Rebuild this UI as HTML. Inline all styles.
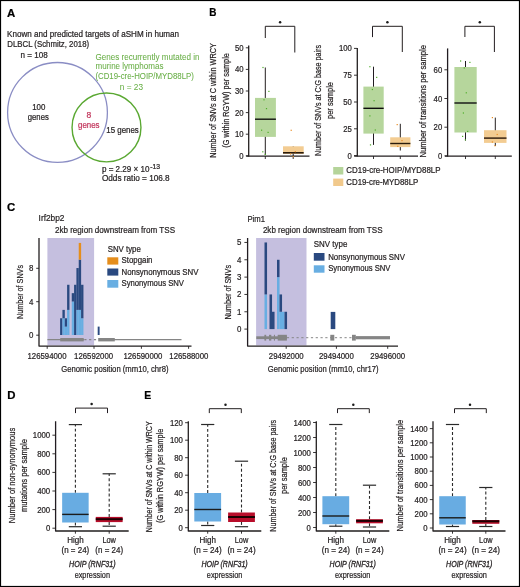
<!DOCTYPE html>
<html><head><meta charset="utf-8"><style>
html,body{margin:0;padding:0;background:#fff;}
body{width:520px;height:587px;overflow:hidden;}
svg{display:block;font-family:"Liberation Sans", sans-serif;}
</style></head><body>
<svg width="520" height="587" viewBox="0 0 520 587">
<defs><filter id="soft" x="-5%" y="-5%" width="110%" height="110%" filterUnits="objectBoundingBox"><feGaussianBlur stdDeviation="0.35"/></filter></defs>
<rect x="0" y="0" width="520" height="587" fill="#fff"/>
<g filter="url(#soft)">
<rect x="1" y="1" width="518" height="585" fill="#fff"/>
<text x="7.1" y="16.5" font-size="11.4" fill="#000" stroke="#000" stroke-width="0.22" font-weight="bold" >A</text>
<text x="209.2" y="16.3" font-size="11.4" fill="#000" stroke="#000" stroke-width="0.22" font-weight="bold" textLength="7.2" lengthAdjust="spacingAndGlyphs" >B</text>
<text x="7.1" y="211.3" font-size="11.4" fill="#000" stroke="#000" stroke-width="0.22" font-weight="bold" >C</text>
<text x="7.2" y="398.7" font-size="11.4" fill="#000" stroke="#000" stroke-width="0.22" font-weight="bold" >D</text>
<text x="144.2" y="398.7" font-size="11.4" fill="#000" stroke="#000" stroke-width="0.22" font-weight="bold" textLength="7.0" lengthAdjust="spacingAndGlyphs" >E</text>
<text x="7.1" y="36.8" font-size="8.6" fill="#231f20" stroke="#231f20" stroke-width="0.22" textLength="172" lengthAdjust="spacingAndGlyphs" >Known and predicted targets of aSHM in human</text>
<text x="7.3" y="47.0" font-size="8.6" fill="#231f20" stroke="#231f20" stroke-width="0.22" textLength="81.8" lengthAdjust="spacingAndGlyphs" >DLBCL (Schmitz, 2018)</text>
<text x="20.6" y="57.9" font-size="8.6" fill="#231f20" stroke="#231f20" stroke-width="0.22" textLength="27.1" lengthAdjust="spacingAndGlyphs" >n = 108</text>
<text x="95.4" y="59.5" font-size="8.6" fill="#69af47" stroke="#69af47" stroke-width="0.05" textLength="104.2" lengthAdjust="spacingAndGlyphs" >Genes recurrently mutated in</text>
<text x="95.5" y="69.2" font-size="8.6" fill="#69af47" stroke="#69af47" stroke-width="0.05" textLength="67.9" lengthAdjust="spacingAndGlyphs" >murine lymphomas</text>
<text x="95.4" y="78.7" font-size="8.6" fill="#69af47" stroke="#69af47" stroke-width="0.05" textLength="98.5" lengthAdjust="spacingAndGlyphs" >(CD19-cre-HOIP/MYD88LP)</text>
<text x="119.8" y="90.2" font-size="8.6" fill="#69af47" stroke="#69af47" stroke-width="0.05" textLength="23.2" lengthAdjust="spacingAndGlyphs" >n = 23</text>
<circle cx="57.5" cy="112.4" r="49.9" fill="none" stroke="#8a8dc4" stroke-width="1.3"/>
<circle cx="106.5" cy="127.4" r="34.45" fill="none" stroke="#5aa832" stroke-width="1.4"/>
<text x="38.8" y="110" font-size="8.5" fill="#231f20" stroke="#231f20" stroke-width="0.22" text-anchor="middle" textLength="13.2" lengthAdjust="spacingAndGlyphs" >100</text>
<text x="38.3" y="119.5" font-size="8.5" fill="#231f20" stroke="#231f20" stroke-width="0.22" text-anchor="middle" textLength="21" lengthAdjust="spacingAndGlyphs" >genes</text>
<text x="88.8" y="117.5" font-size="8.5" fill="#c2365c" stroke="#c2365c" stroke-width="0.22" text-anchor="middle" >8</text>
<text x="88.8" y="128" font-size="8.5" fill="#c2365c" stroke="#c2365c" stroke-width="0.22" text-anchor="middle" textLength="21.5" lengthAdjust="spacingAndGlyphs" >genes</text>
<text x="106.3" y="132.5" font-size="8.5" fill="#231f20" stroke="#231f20" stroke-width="0.22" textLength="32.5" lengthAdjust="spacingAndGlyphs" >15 genes</text>
<text x="101.9" y="172.3" font-size="8.3" fill="#231f20" stroke="#231f20" stroke-width="0.22" textLength="47.6" lengthAdjust="spacingAndGlyphs" >p = 2.29 × 10</text>
<text x="150.2" y="168.9" font-size="6.4" fill="#231f20" stroke="#231f20" stroke-width="0.22" textLength="9.8" lengthAdjust="spacingAndGlyphs" >-13</text>
<text x="101.9" y="181.3" font-size="8.3" fill="#231f20" stroke="#231f20" stroke-width="0.22" textLength="67.8" lengthAdjust="spacingAndGlyphs" >Odds ratio = 106.8</text>
<polyline points="265.3,38 265.3,26.3 294.8,26.3 294.8,52.5" fill="none" stroke="#231f20" stroke-width="1"/>
<circle cx="280.1" cy="22.2" r="1.25" fill="#1a1a1a"/>
<line x1="248.7" y1="45.5" x2="248.7" y2="156.6" stroke="#231f20" stroke-width="1.3"/>
<line x1="246.2" y1="156.1" x2="309.5" y2="156.1" stroke="#231f20" stroke-width="1.3"/>
<line x1="265.3" y1="156" x2="265.3" y2="159" stroke="#231f20" stroke-width="0.9"/>
<line x1="293.2" y1="156" x2="293.2" y2="159" stroke="#231f20" stroke-width="0.9"/>
<line x1="245.8" y1="155.8" x2="248.8" y2="155.8" stroke="#231f20" stroke-width="0.9"/>
<text x="243.60000000000002" y="158.85000000000002" font-size="8.7" fill="#231f20" stroke="#231f20" stroke-width="0.22" text-anchor="end" textLength="4.3" lengthAdjust="spacingAndGlyphs" >0</text>
<line x1="245.8" y1="134.2" x2="248.8" y2="134.2" stroke="#231f20" stroke-width="0.9"/>
<text x="243.60000000000002" y="137.25" font-size="8.7" fill="#231f20" stroke="#231f20" stroke-width="0.22" text-anchor="end" textLength="8.6" lengthAdjust="spacingAndGlyphs" >10</text>
<line x1="245.8" y1="112.6" x2="248.8" y2="112.6" stroke="#231f20" stroke-width="0.9"/>
<text x="243.60000000000002" y="115.64999999999999" font-size="8.7" fill="#231f20" stroke="#231f20" stroke-width="0.22" text-anchor="end" textLength="8.6" lengthAdjust="spacingAndGlyphs" >20</text>
<line x1="245.8" y1="91.0" x2="248.8" y2="91.0" stroke="#231f20" stroke-width="0.9"/>
<text x="243.60000000000002" y="94.05" font-size="8.7" fill="#231f20" stroke="#231f20" stroke-width="0.22" text-anchor="end" textLength="8.6" lengthAdjust="spacingAndGlyphs" >30</text>
<line x1="245.8" y1="69.4" x2="248.8" y2="69.4" stroke="#231f20" stroke-width="0.9"/>
<text x="243.60000000000002" y="72.45" font-size="8.7" fill="#231f20" stroke="#231f20" stroke-width="0.22" text-anchor="end" textLength="8.6" lengthAdjust="spacingAndGlyphs" >40</text>
<line x1="245.8" y1="47.8" x2="248.8" y2="47.8" stroke="#231f20" stroke-width="0.9"/>
<text x="243.60000000000002" y="50.849999999999994" font-size="8.7" fill="#231f20" stroke="#231f20" stroke-width="0.22" text-anchor="end" textLength="8.6" lengthAdjust="spacingAndGlyphs" >50</text>
<line x1="265.3" y1="67.5" x2="265.3" y2="155" stroke="#231f20" stroke-width="1"/>
<rect x="255" y="97.9" width="20.9" height="39.0" fill="#b6d69c"/>
<line x1="255" y1="119.2" x2="275.9" y2="119.2" stroke="#111" stroke-width="1.4"/>
<line x1="293.2" y1="146.3" x2="293.2" y2="156" stroke="#231f20" stroke-width="1"/>
<rect x="283" y="146.3" width="20.7" height="7.5" fill="#f3cc92"/>
<line x1="283" y1="152.8" x2="303.7" y2="152.8" stroke="#2b1a0a" stroke-width="1.6"/>
<rect x="262.4" y="66.9" width="1.2" height="1.2" fill="#4fae2a"/>
<rect x="268.29999999999995" y="90.80000000000001" width="1.2" height="1.2" fill="#4fae2a"/>
<rect x="263.4" y="99.2" width="1.2" height="1.2" fill="#4fae2a"/>
<rect x="265.9" y="108.0" width="1.2" height="1.2" fill="#4fae2a"/>
<rect x="261.0" y="129.6" width="1.2" height="1.2" fill="#4fae2a"/>
<rect x="267.5" y="131.8" width="1.2" height="1.2" fill="#4fae2a"/>
<rect x="262.2" y="151.20000000000002" width="1.2" height="1.2" fill="#4fae2a"/>
<rect x="264.7" y="153.8" width="1.2" height="1.2" fill="#4fae2a"/>
<rect x="290.59999999999997" y="129.70000000000002" width="1.2" height="1.2" fill="#e98c24"/>
<rect x="294.7" y="151.1" width="1.2" height="1.2" fill="#e98c24"/>
<rect x="290.0" y="153.4" width="1.2" height="1.2" fill="#e98c24"/>
<rect x="292.59999999999997" y="156.0" width="1.2" height="1.2" fill="#e98c24"/>
<text transform="translate(216.2,100.5) rotate(-90)" font-size="8.6" fill="#231f20" stroke="#231f20" stroke-width="0.22" text-anchor="middle" textLength="114.5" lengthAdjust="spacingAndGlyphs" >Number of SNVs at C within WRCY</text>
<text transform="translate(228.6,100.4) rotate(-90)" font-size="8.6" fill="#231f20" stroke="#231f20" stroke-width="0.22" text-anchor="middle" textLength="94.5" lengthAdjust="spacingAndGlyphs" >(G within RGYW) per sample</text>
<polyline points="372.5,37.1 372.5,26.3 402.3,26.3 402.3,52" fill="none" stroke="#231f20" stroke-width="1"/>
<circle cx="387.4" cy="22.2" r="1.25" fill="#1a1a1a"/>
<line x1="357.3" y1="48" x2="357.3" y2="156.6" stroke="#231f20" stroke-width="1.3"/>
<line x1="354.2" y1="156.1" x2="418" y2="156.1" stroke="#231f20" stroke-width="1.3"/>
<line x1="373.5" y1="156" x2="373.5" y2="159" stroke="#231f20" stroke-width="0.9"/>
<line x1="400.3" y1="156" x2="400.3" y2="159" stroke="#231f20" stroke-width="0.9"/>
<line x1="354" y1="155.6" x2="357" y2="155.6" stroke="#231f20" stroke-width="0.9"/>
<text x="351.8" y="158.65" font-size="8.7" fill="#231f20" stroke="#231f20" stroke-width="0.22" text-anchor="end" textLength="4.3" lengthAdjust="spacingAndGlyphs" >0</text>
<line x1="354" y1="128.8" x2="357" y2="128.8" stroke="#231f20" stroke-width="0.9"/>
<text x="351.8" y="131.85000000000002" font-size="8.7" fill="#231f20" stroke="#231f20" stroke-width="0.22" text-anchor="end" textLength="8.6" lengthAdjust="spacingAndGlyphs" >25</text>
<line x1="354" y1="102.0" x2="357" y2="102.0" stroke="#231f20" stroke-width="0.9"/>
<text x="351.8" y="105.05" font-size="8.7" fill="#231f20" stroke="#231f20" stroke-width="0.22" text-anchor="end" textLength="8.6" lengthAdjust="spacingAndGlyphs" >50</text>
<line x1="354" y1="75.2" x2="357" y2="75.2" stroke="#231f20" stroke-width="0.9"/>
<text x="351.8" y="78.25" font-size="8.7" fill="#231f20" stroke="#231f20" stroke-width="0.22" text-anchor="end" textLength="8.6" lengthAdjust="spacingAndGlyphs" >75</text>
<line x1="354" y1="48.4" x2="357" y2="48.4" stroke="#231f20" stroke-width="0.9"/>
<text x="351.8" y="51.449999999999996" font-size="8.7" fill="#231f20" stroke="#231f20" stroke-width="0.22" text-anchor="end" textLength="12.9" lengthAdjust="spacingAndGlyphs" >100</text>
<line x1="373.5" y1="66.7" x2="373.5" y2="144.9" stroke="#231f20" stroke-width="1"/>
<rect x="363.4" y="86.6" width="20.3" height="47.0" fill="#b6d69c"/>
<line x1="363.4" y1="108.3" x2="383.7" y2="108.3" stroke="#111" stroke-width="1.4"/>
<line x1="400.3" y1="123.8" x2="400.3" y2="150.5" stroke="#231f20" stroke-width="1"/>
<rect x="390.2" y="137.3" width="20.2" height="9.8" fill="#f3cc92"/>
<line x1="390.2" y1="143.5" x2="410.4" y2="143.5" stroke="#2b1a0a" stroke-width="1.4"/>
<rect x="369.29999999999995" y="66.10000000000001" width="1.2" height="1.2" fill="#4fae2a"/>
<rect x="376.09999999999997" y="76.80000000000001" width="1.2" height="1.2" fill="#4fae2a"/>
<rect x="371.79999999999995" y="88.9" width="1.2" height="1.2" fill="#4fae2a"/>
<rect x="373.5" y="100.10000000000001" width="1.2" height="1.2" fill="#4fae2a"/>
<rect x="369.29999999999995" y="115.30000000000001" width="1.2" height="1.2" fill="#4fae2a"/>
<rect x="374.7" y="129.4" width="1.2" height="1.2" fill="#4fae2a"/>
<rect x="369.9" y="144.3" width="1.2" height="1.2" fill="#4fae2a"/>
<rect x="396.59999999999997" y="124.0" width="1.2" height="1.2" fill="#e98c24"/>
<rect x="401.4" y="140.0" width="1.2" height="1.2" fill="#e98c24"/>
<rect x="397.2" y="145.70000000000002" width="1.2" height="1.2" fill="#e98c24"/>
<text transform="translate(320.6,100.5) rotate(-90)" font-size="8.6" fill="#231f20" stroke="#231f20" stroke-width="0.22" text-anchor="middle" textLength="111" lengthAdjust="spacingAndGlyphs" >Number of SNVs at C:G base pairs</text>
<text transform="translate(332.9,100.5) rotate(-90)" font-size="8.6" fill="#231f20" stroke="#231f20" stroke-width="0.22" text-anchor="middle" textLength="37" lengthAdjust="spacingAndGlyphs" >per sample</text>
<polyline points="464.9,37 464.9,26.3 494.4,26.3 494.4,52" fill="none" stroke="#231f20" stroke-width="1"/>
<circle cx="479.8" cy="22.2" r="1.25" fill="#1a1a1a"/>
<line x1="447.6" y1="48.4" x2="447.6" y2="156.6" stroke="#231f20" stroke-width="1.3"/>
<line x1="445.0" y1="156.1" x2="511.8" y2="156.1" stroke="#231f20" stroke-width="1.3"/>
<line x1="465.5" y1="156" x2="465.5" y2="159" stroke="#231f20" stroke-width="0.9"/>
<line x1="495.3" y1="156" x2="495.3" y2="159" stroke="#231f20" stroke-width="0.9"/>
<line x1="444.4" y1="155.9" x2="447.4" y2="155.9" stroke="#231f20" stroke-width="0.9"/>
<text x="442.2" y="158.95000000000002" font-size="8.7" fill="#231f20" stroke="#231f20" stroke-width="0.22" text-anchor="end" textLength="4.3" lengthAdjust="spacingAndGlyphs" >0</text>
<line x1="444.4" y1="127.2" x2="447.4" y2="127.2" stroke="#231f20" stroke-width="0.9"/>
<text x="442.2" y="130.25" font-size="8.7" fill="#231f20" stroke="#231f20" stroke-width="0.22" text-anchor="end" textLength="8.6" lengthAdjust="spacingAndGlyphs" >20</text>
<line x1="444.4" y1="98.5" x2="447.4" y2="98.5" stroke="#231f20" stroke-width="0.9"/>
<text x="442.2" y="101.55" font-size="8.7" fill="#231f20" stroke="#231f20" stroke-width="0.22" text-anchor="end" textLength="8.6" lengthAdjust="spacingAndGlyphs" >40</text>
<line x1="444.4" y1="69.8" x2="447.4" y2="69.8" stroke="#231f20" stroke-width="0.9"/>
<text x="442.2" y="72.85" font-size="8.7" fill="#231f20" stroke="#231f20" stroke-width="0.22" text-anchor="end" textLength="8.6" lengthAdjust="spacingAndGlyphs" >60</text>
<line x1="465.5" y1="61" x2="465.5" y2="140.6" stroke="#231f20" stroke-width="1"/>
<rect x="454.4" y="67" width="22.3" height="65.5" fill="#b6d69c"/>
<line x1="454.4" y1="103" x2="476.7" y2="103" stroke="#111" stroke-width="1.4"/>
<line x1="495.3" y1="117.6" x2="495.3" y2="146" stroke="#231f20" stroke-width="1"/>
<rect x="484" y="130.2" width="22.5" height="12.7" fill="#f3cc92"/>
<line x1="484" y1="138.1" x2="506.5" y2="138.1" stroke="#2b1a0a" stroke-width="1.4"/>
<rect x="460.0" y="60.4" width="1.2" height="1.2" fill="#4fae2a"/>
<rect x="469.29999999999995" y="61.8" width="1.2" height="1.2" fill="#4fae2a"/>
<rect x="463.7" y="67.4" width="1.2" height="1.2" fill="#4fae2a"/>
<rect x="465.7" y="92.2" width="1.2" height="1.2" fill="#4fae2a"/>
<rect x="462.79999999999995" y="112.4" width="1.2" height="1.2" fill="#4fae2a"/>
<rect x="467.09999999999997" y="130.8" width="1.2" height="1.2" fill="#4fae2a"/>
<rect x="462.0" y="135.8" width="1.2" height="1.2" fill="#4fae2a"/>
<rect x="464.79999999999995" y="139.20000000000002" width="1.2" height="1.2" fill="#4fae2a"/>
<rect x="491.79999999999995" y="117.0" width="1.2" height="1.2" fill="#e98c24"/>
<rect x="496.59999999999997" y="133.9" width="1.2" height="1.2" fill="#e98c24"/>
<rect x="491.79999999999995" y="141.4" width="1.2" height="1.2" fill="#e98c24"/>
<rect x="494.4" y="145.1" width="1.2" height="1.2" fill="#e98c24"/>
<text transform="translate(426.2,101.2) rotate(-90)" font-size="8.6" fill="#231f20" stroke="#231f20" stroke-width="0.22" text-anchor="middle" textLength="112.5" lengthAdjust="spacingAndGlyphs" >Number of transitions per sample</text>
<rect x="333.2" y="167" width="10.1" height="7.5" fill="#b5d49a"/>
<rect x="333.2" y="178.6" width="10.1" height="7.4" fill="#f1c98c"/>
<text x="346.3" y="173.3" font-size="8.6" fill="#231f20" stroke="#231f20" stroke-width="0.22" textLength="94.2" lengthAdjust="spacingAndGlyphs" >CD19-cre-HOIP/MYD88LP</text>
<text x="346.3" y="185.2" font-size="8.6" fill="#231f20" stroke="#231f20" stroke-width="0.22" textLength="72" lengthAdjust="spacingAndGlyphs" >CD19-cre-MYD88LP</text>
<text x="38.6" y="221.2" font-size="8.8" fill="#231f20" stroke="#231f20" stroke-width="0.22" textLength="25.9" lengthAdjust="spacingAndGlyphs" >Irf2bp2</text>
<text x="54.9" y="233.0" font-size="8.8" fill="#231f20" stroke="#231f20" stroke-width="0.22" textLength="120.2" lengthAdjust="spacingAndGlyphs" >2kb region downstream from TSS</text>
<rect x="47.4" y="238" width="46.7" height="107.4" fill="#c5bfdf"/>
<rect x="60.1" y="318.26" width="2.38" height="16.74" fill="#2a4a80"/>
<rect x="62.43" y="318.26" width="2.38" height="16.74" fill="#68aee2"/>
<rect x="62.43" y="309.89" width="2.38" height="8.37" fill="#2a4a80"/>
<rect x="64.76" y="326.63" width="2.38" height="8.37" fill="#68aee2"/>
<rect x="64.76" y="318.26" width="2.38" height="8.37" fill="#2a4a80"/>
<rect x="67.09" y="309.89" width="2.38" height="25.11" fill="#68aee2"/>
<rect x="67.09" y="284.78" width="2.38" height="25.11" fill="#2a4a80"/>
<rect x="71.75" y="301.52" width="2.38" height="33.48" fill="#68aee2"/>
<rect x="71.75" y="293.15" width="2.38" height="8.37" fill="#2a4a80"/>
<rect x="74.08" y="284.78" width="2.38" height="50.22" fill="#2a4a80"/>
<rect x="76.41" y="309.89" width="2.38" height="25.11" fill="#68aee2"/>
<rect x="76.41" y="268.04" width="2.38" height="41.85" fill="#2a4a80"/>
<rect x="78.74" y="309.89" width="2.38" height="25.11" fill="#68aee2"/>
<rect x="78.74" y="259.67" width="2.38" height="50.22" fill="#2a4a80"/>
<rect x="78.74" y="242.93" width="2.38" height="16.74" fill="#e58e1e"/>
<rect x="81.07" y="318.26" width="2.38" height="16.74" fill="#68aee2"/>
<rect x="81.07" y="284.78" width="2.38" height="33.48" fill="#2a4a80"/>
<rect x="97.7" y="326.6" width="1.9" height="8.4" fill="#2a4a80"/>
<line x1="47.4" y1="339.6" x2="84" y2="339.6" stroke="#858585" stroke-width="1.2"/>
<line x1="114" y1="339.6" x2="181.5" y2="339.6" stroke="#858585" stroke-width="1.2"/>
<line x1="84.3" y1="339.6" x2="98.2" y2="339.6" stroke="#858585" stroke-width="1.1" stroke-dasharray="2.2,2.6"/>
<rect x="60.2" y="338.0" width="23.5" height="3.4" fill="#858585"/>
<rect x="98.2" y="338.0" width="16.6" height="3.4" fill="#858585"/>
<polyline points="39,238 39,346.1 191.5,346.1" fill="none" stroke="#231f20" stroke-width="1.3" stroke-linejoin="round"/>
<line x1="47.2" y1="346.1" x2="47.2" y2="348.8" stroke="#231f20" stroke-width="0.9"/>
<line x1="94.0" y1="346.1" x2="94.0" y2="348.8" stroke="#231f20" stroke-width="0.9"/>
<line x1="141.4" y1="346.1" x2="141.4" y2="348.8" stroke="#231f20" stroke-width="0.9"/>
<line x1="188.6" y1="346.1" x2="188.6" y2="348.8" stroke="#231f20" stroke-width="0.9"/>
<line x1="36.2" y1="335.2" x2="39" y2="335.2" stroke="#231f20" stroke-width="0.9"/>
<text x="33.3" y="338.2" font-size="8.7" fill="#231f20" stroke="#231f20" stroke-width="0.22" text-anchor="end" textLength="4.4" lengthAdjust="spacingAndGlyphs" >0</text>
<line x1="36.2" y1="301.7" x2="39" y2="301.7" stroke="#231f20" stroke-width="0.9"/>
<text x="33.3" y="304.7" font-size="8.7" fill="#231f20" stroke="#231f20" stroke-width="0.22" text-anchor="end" textLength="4.4" lengthAdjust="spacingAndGlyphs" >4</text>
<line x1="36.2" y1="268.3" x2="39" y2="268.3" stroke="#231f20" stroke-width="0.9"/>
<text x="33.3" y="271.3" font-size="8.7" fill="#231f20" stroke="#231f20" stroke-width="0.22" text-anchor="end" textLength="4.4" lengthAdjust="spacingAndGlyphs" >8</text>
<text x="47.0" y="359.0" font-size="8.7" fill="#231f20" stroke="#231f20" stroke-width="0.22" text-anchor="middle" textLength="39" lengthAdjust="spacingAndGlyphs" >126594000</text>
<text x="93.6" y="359.0" font-size="8.7" fill="#231f20" stroke="#231f20" stroke-width="0.22" text-anchor="middle" textLength="39" lengthAdjust="spacingAndGlyphs" >126592000</text>
<text x="142.9" y="359.0" font-size="8.7" fill="#231f20" stroke="#231f20" stroke-width="0.22" text-anchor="middle" textLength="39" lengthAdjust="spacingAndGlyphs" >126590000</text>
<text x="188.8" y="359.0" font-size="8.7" fill="#231f20" stroke="#231f20" stroke-width="0.22" text-anchor="middle" textLength="39" lengthAdjust="spacingAndGlyphs" >126588000</text>
<text x="61.3" y="372.2" font-size="8.8" fill="#231f20" stroke="#231f20" stroke-width="0.22" textLength="107.2" lengthAdjust="spacingAndGlyphs" >Genomic position (mm10, chr8)</text>
<text transform="translate(23.4,292) rotate(-90)" font-size="8.6" fill="#231f20" stroke="#231f20" stroke-width="0.22" text-anchor="middle" textLength="54" lengthAdjust="spacingAndGlyphs" >Number of SNVs</text>
<text x="107.7" y="251.5" font-size="8.6" fill="#231f20" stroke="#231f20" stroke-width="0.22" textLength="33.1" lengthAdjust="spacingAndGlyphs" >SNV type</text>
<rect x="107.3" y="257.3" width="11.0" height="7.3" fill="#e58e1e"/>
<rect x="107.3" y="268.5" width="11.0" height="7.1" fill="#2a4a80"/>
<rect x="107.3" y="280.0" width="11.0" height="7.7" fill="#68aee2"/>
<text x="121.5" y="263" font-size="8.6" fill="#231f20" stroke="#231f20" stroke-width="0.22" textLength="31" lengthAdjust="spacingAndGlyphs" >Stopgain</text>
<text x="121.5" y="274.6" font-size="8.6" fill="#231f20" stroke="#231f20" stroke-width="0.22" textLength="77" lengthAdjust="spacingAndGlyphs" >Nonsynonymous SNV</text>
<text x="121.5" y="286.2" font-size="8.6" fill="#231f20" stroke="#231f20" stroke-width="0.22" textLength="62.5" lengthAdjust="spacingAndGlyphs" >Synonymous SNV</text>
<text x="247.5" y="221.6" font-size="8.8" fill="#231f20" stroke="#231f20" stroke-width="0.22" textLength="17.5" lengthAdjust="spacingAndGlyphs" >Pim1</text>
<text x="262.9" y="233.4" font-size="8.8" fill="#231f20" stroke="#231f20" stroke-width="0.22" textLength="119.6" lengthAdjust="spacingAndGlyphs" >2kb region downstream from TSS</text>
<rect x="256.1" y="238" width="50.4" height="107.4" fill="#c5bfdf"/>
<rect x="264.5" y="294.44" width="2.55" height="34.66" fill="#68aee2"/>
<rect x="264.5" y="242.45" width="2.55" height="51.99" fill="#2a4a80"/>
<rect x="269.5" y="294.44" width="2.55" height="34.66" fill="#2a4a80"/>
<rect x="272.0" y="311.77" width="2.55" height="17.33" fill="#2a4a80"/>
<rect x="277.0" y="277.11" width="2.55" height="51.99" fill="#68aee2"/>
<rect x="277.0" y="259.78" width="2.55" height="17.33" fill="#2a4a80"/>
<rect x="279.5" y="311.77" width="2.55" height="17.33" fill="#68aee2"/>
<rect x="279.5" y="294.44" width="2.55" height="17.33" fill="#2a4a80"/>
<rect x="282.0" y="311.77" width="2.55" height="17.33" fill="#68aee2"/>
<rect x="284.5" y="311.77" width="2.55" height="17.33" fill="#2a4a80"/>
<rect x="330.7" y="311.9" width="4.6" height="17.2" fill="#2a4a80"/>
<line x1="286.9" y1="337.7" x2="398" y2="337.7" stroke="#858585" stroke-width="1.0" stroke-dasharray="2.2,2.6"/>
<rect x="256.3" y="336.3" width="30.6" height="2.8" fill="#858585"/>
<rect x="264.4" y="334.8" width="1.8" height="5.8" fill="#858585"/>
<rect x="269.0" y="334.8" width="2.3" height="5.8" fill="#858585"/>
<rect x="273.9" y="334.8" width="1.1" height="5.8" fill="#858585"/>
<rect x="277.7" y="334.8" width="9.2" height="5.8" fill="#858585"/>
<rect x="330.3" y="334.8" width="4.0" height="5.8" fill="#858585"/>
<rect x="352.0" y="334.8" width="3.8" height="5.8" fill="#858585"/>
<rect x="355.8" y="336.1" width="34.2" height="3.2" fill="#858585"/>
<rect x="390" y="336" width="10" height="4" fill="#fff"/>
<polyline points="247.6,238 247.6,346.1 398,346.1" fill="none" stroke="#231f20" stroke-width="1.3" stroke-linejoin="round"/>
<line x1="286.2" y1="346.1" x2="286.2" y2="348.8" stroke="#231f20" stroke-width="0.9"/>
<line x1="336.4" y1="346.1" x2="336.4" y2="348.8" stroke="#231f20" stroke-width="0.9"/>
<line x1="387.7" y1="346.1" x2="387.7" y2="348.8" stroke="#231f20" stroke-width="0.9"/>
<line x1="244.4" y1="329.1" x2="247.5" y2="329.1" stroke="#231f20" stroke-width="0.9"/>
<text x="241.5" y="332.1" font-size="8.7" fill="#231f20" stroke="#231f20" stroke-width="0.22" text-anchor="end" textLength="4.4" lengthAdjust="spacingAndGlyphs" >0</text>
<line x1="244.4" y1="311.77000000000004" x2="247.5" y2="311.77000000000004" stroke="#231f20" stroke-width="0.9"/>
<text x="241.5" y="314.77000000000004" font-size="8.7" fill="#231f20" stroke="#231f20" stroke-width="0.22" text-anchor="end" textLength="4.4" lengthAdjust="spacingAndGlyphs" >1</text>
<line x1="244.4" y1="294.44000000000005" x2="247.5" y2="294.44000000000005" stroke="#231f20" stroke-width="0.9"/>
<text x="241.5" y="297.44000000000005" font-size="8.7" fill="#231f20" stroke="#231f20" stroke-width="0.22" text-anchor="end" textLength="4.4" lengthAdjust="spacingAndGlyphs" >2</text>
<line x1="244.4" y1="277.11" x2="247.5" y2="277.11" stroke="#231f20" stroke-width="0.9"/>
<text x="241.5" y="280.11" font-size="8.7" fill="#231f20" stroke="#231f20" stroke-width="0.22" text-anchor="end" textLength="4.4" lengthAdjust="spacingAndGlyphs" >3</text>
<line x1="244.4" y1="259.78000000000003" x2="247.5" y2="259.78000000000003" stroke="#231f20" stroke-width="0.9"/>
<text x="241.5" y="262.78000000000003" font-size="8.7" fill="#231f20" stroke="#231f20" stroke-width="0.22" text-anchor="end" textLength="4.4" lengthAdjust="spacingAndGlyphs" >4</text>
<line x1="244.4" y1="242.45000000000005" x2="247.5" y2="242.45000000000005" stroke="#231f20" stroke-width="0.9"/>
<text x="241.5" y="245.45000000000005" font-size="8.7" fill="#231f20" stroke="#231f20" stroke-width="0.22" text-anchor="end" textLength="4.4" lengthAdjust="spacingAndGlyphs" >5</text>
<text x="286.2" y="359.0" font-size="8.7" fill="#231f20" stroke="#231f20" stroke-width="0.22" text-anchor="middle" textLength="34.8" lengthAdjust="spacingAndGlyphs" >29492000</text>
<text x="336.4" y="359.0" font-size="8.7" fill="#231f20" stroke="#231f20" stroke-width="0.22" text-anchor="middle" textLength="34.8" lengthAdjust="spacingAndGlyphs" >29494000</text>
<text x="387.7" y="359.0" font-size="8.7" fill="#231f20" stroke="#231f20" stroke-width="0.22" text-anchor="middle" textLength="34.8" lengthAdjust="spacingAndGlyphs" >29496000</text>
<text x="267.7" y="371.7" font-size="8.8" fill="#231f20" stroke="#231f20" stroke-width="0.22" textLength="110.8" lengthAdjust="spacingAndGlyphs" >Genomic position (mm10, chr17)</text>
<text transform="translate(231.4,292.2) rotate(-90)" font-size="8.6" fill="#231f20" stroke="#231f20" stroke-width="0.22" text-anchor="middle" textLength="54.5" lengthAdjust="spacingAndGlyphs" >Number of SNVs</text>
<text x="313.8" y="247.3" font-size="8.6" fill="#231f20" stroke="#231f20" stroke-width="0.22" textLength="33.5" lengthAdjust="spacingAndGlyphs" >SNV type</text>
<rect x="313.8" y="253.0" width="10.7" height="7.7" fill="#2a4a80"/>
<rect x="313.8" y="265.3" width="10.7" height="7.4" fill="#68aee2"/>
<text x="328.2" y="259.5" font-size="8.6" fill="#231f20" stroke="#231f20" stroke-width="0.22" textLength="76.8" lengthAdjust="spacingAndGlyphs" >Nonsynonymous SNV</text>
<text x="328.2" y="271.0" font-size="8.6" fill="#231f20" stroke="#231f20" stroke-width="0.22" textLength="62.3" lengthAdjust="spacingAndGlyphs" >Synonymous SNV</text>
<polyline points="55.6,421.2 55.6,531.0 128.7,531.0" fill="none" stroke="#231f20" stroke-width="1.3" stroke-linejoin="round"/>
<line x1="75.4" y1="531.0" x2="75.4" y2="533.7" stroke="#231f20" stroke-width="0.9"/>
<line x1="109.2" y1="531.0" x2="109.2" y2="533.7" stroke="#231f20" stroke-width="0.9"/>
<line x1="52.4" y1="528.2" x2="55.6" y2="528.2" stroke="#231f20" stroke-width="0.9"/>
<text x="50.2" y="531.2" font-size="8.4" fill="#231f20" stroke="#231f20" stroke-width="0.22" text-anchor="end" textLength="4.3" lengthAdjust="spacingAndGlyphs" >0</text>
<line x1="52.4" y1="509.6" x2="55.6" y2="509.6" stroke="#231f20" stroke-width="0.9"/>
<text x="50.2" y="512.6" font-size="8.4" fill="#231f20" stroke="#231f20" stroke-width="0.22" text-anchor="end" textLength="13.0" lengthAdjust="spacingAndGlyphs" >200</text>
<line x1="52.4" y1="491.0" x2="55.6" y2="491.0" stroke="#231f20" stroke-width="0.9"/>
<text x="50.2" y="494.0" font-size="8.4" fill="#231f20" stroke="#231f20" stroke-width="0.22" text-anchor="end" textLength="13.0" lengthAdjust="spacingAndGlyphs" >400</text>
<line x1="52.4" y1="472.4" x2="55.6" y2="472.4" stroke="#231f20" stroke-width="0.9"/>
<text x="50.2" y="475.4" font-size="8.4" fill="#231f20" stroke="#231f20" stroke-width="0.22" text-anchor="end" textLength="13.0" lengthAdjust="spacingAndGlyphs" >600</text>
<line x1="52.4" y1="453.8" x2="55.6" y2="453.8" stroke="#231f20" stroke-width="0.9"/>
<text x="50.2" y="456.8" font-size="8.4" fill="#231f20" stroke="#231f20" stroke-width="0.22" text-anchor="end" textLength="13.0" lengthAdjust="spacingAndGlyphs" >800</text>
<line x1="52.4" y1="435.2" x2="55.6" y2="435.2" stroke="#231f20" stroke-width="0.9"/>
<text x="50.2" y="438.2" font-size="8.4" fill="#231f20" stroke="#231f20" stroke-width="0.22" text-anchor="end" textLength="17.4" lengthAdjust="spacingAndGlyphs" >1000</text>
<polyline points="75.5,413.1 75.5,408.1 107.5,408.1 107.5,413.1" fill="none" stroke="#231f20" stroke-width="1"/>
<circle cx="91.6" cy="404.1" r="1.25" fill="#1a1a1a"/>
<line x1="75.4" y1="492.8" x2="75.4" y2="424.6" stroke="#2a2a2a" stroke-width="1.1" stroke-dasharray="2.9,2.2"/>
<line x1="75.4" y1="522.5" x2="75.4" y2="526.7" stroke="#2a2a2a" stroke-width="1.1" stroke-dasharray="2.9,2.2"/>
<line x1="68.80000000000001" y1="424.6" x2="82.0" y2="424.6" stroke="#2a2a2a" stroke-width="1.2"/>
<line x1="68.80000000000001" y1="526.7" x2="82.0" y2="526.7" stroke="#2a2a2a" stroke-width="1.2"/>
<rect x="62.150000000000006" y="492.8" width="26.5" height="29.7" fill="#68ace2"/>
<line x1="62.150000000000006" y1="514.4" x2="88.65" y2="514.4" stroke="#1a1a1a" stroke-width="1.4"/>
<line x1="109.2" y1="516.9" x2="109.2" y2="473.8" stroke="#2a2a2a" stroke-width="1.1" stroke-dasharray="2.9,2.2"/>
<line x1="109.2" y1="522.1" x2="109.2" y2="526.2" stroke="#2a2a2a" stroke-width="1.1" stroke-dasharray="2.9,2.2"/>
<line x1="102.60000000000001" y1="473.8" x2="115.8" y2="473.8" stroke="#2a2a2a" stroke-width="1.2"/>
<line x1="102.60000000000001" y1="526.2" x2="115.8" y2="526.2" stroke="#2a2a2a" stroke-width="1.2"/>
<rect x="95.75" y="516.9" width="26.9" height="5.2" fill="#b8102c"/>
<line x1="95.75" y1="519.2" x2="122.65" y2="519.2" stroke="#1a0005" stroke-width="2.0"/>
<text transform="translate(14.8,475.5) rotate(-90)" font-size="8.6" fill="#231f20" stroke="#231f20" stroke-width="0.22" text-anchor="middle" textLength="95.5" lengthAdjust="spacingAndGlyphs" >Number of non-synonymous</text>
<text transform="translate(27.1,475.5) rotate(-90)" font-size="8.6" fill="#231f20" stroke="#231f20" stroke-width="0.22" text-anchor="middle" textLength="73" lengthAdjust="spacingAndGlyphs" >mutations per sample</text>
<text x="75.4" y="543.2" font-size="8.2" fill="#231f20" stroke="#231f20" stroke-width="0.22" text-anchor="middle" textLength="16.5" lengthAdjust="spacingAndGlyphs" >High</text>
<text x="109.2" y="543.2" font-size="8.2" fill="#231f20" stroke="#231f20" stroke-width="0.22" text-anchor="middle" textLength="13.5" lengthAdjust="spacingAndGlyphs" >Low</text>
<text x="75.4" y="553.0" font-size="8.2" fill="#231f20" stroke="#231f20" stroke-width="0.22" text-anchor="middle" textLength="27.7" lengthAdjust="spacingAndGlyphs" >(n = 24)</text>
<text x="109.2" y="553.0" font-size="8.2" fill="#231f20" stroke="#231f20" stroke-width="0.22" text-anchor="middle" textLength="27.7" lengthAdjust="spacingAndGlyphs" >(n = 24)</text>
<text x="92.30000000000001" y="566.6" font-size="8.8" fill="#231f20" stroke="#231f20" stroke-width="0.3" text-anchor="middle" font-style="italic" textLength="46.6" lengthAdjust="spacingAndGlyphs" >HOIP (RNF31)</text>
<text x="92.30000000000001" y="577.6" font-size="8.8" fill="#231f20" stroke="#231f20" stroke-width="0.22" text-anchor="middle" textLength="35.3" lengthAdjust="spacingAndGlyphs" >expression</text>
<polyline points="188.3,421.2 188.3,531.0 261.3,531.0" fill="none" stroke="#231f20" stroke-width="1.3" stroke-linejoin="round"/>
<line x1="207.7" y1="531.0" x2="207.7" y2="533.7" stroke="#231f20" stroke-width="0.9"/>
<line x1="241.5" y1="531.0" x2="241.5" y2="533.7" stroke="#231f20" stroke-width="0.9"/>
<line x1="185.10000000000002" y1="527.7" x2="188.3" y2="527.7" stroke="#231f20" stroke-width="0.9"/>
<text x="182.9" y="530.7" font-size="8.4" fill="#231f20" stroke="#231f20" stroke-width="0.22" text-anchor="end" textLength="4.3" lengthAdjust="spacingAndGlyphs" >0</text>
<line x1="185.10000000000002" y1="510.2" x2="188.3" y2="510.2" stroke="#231f20" stroke-width="0.9"/>
<text x="182.9" y="513.2" font-size="8.4" fill="#231f20" stroke="#231f20" stroke-width="0.22" text-anchor="end" textLength="8.7" lengthAdjust="spacingAndGlyphs" >20</text>
<line x1="185.10000000000002" y1="492.7" x2="188.3" y2="492.7" stroke="#231f20" stroke-width="0.9"/>
<text x="182.9" y="495.7" font-size="8.4" fill="#231f20" stroke="#231f20" stroke-width="0.22" text-anchor="end" textLength="8.7" lengthAdjust="spacingAndGlyphs" >40</text>
<line x1="185.10000000000002" y1="475.2" x2="188.3" y2="475.2" stroke="#231f20" stroke-width="0.9"/>
<text x="182.9" y="478.2" font-size="8.4" fill="#231f20" stroke="#231f20" stroke-width="0.22" text-anchor="end" textLength="8.7" lengthAdjust="spacingAndGlyphs" >60</text>
<line x1="185.10000000000002" y1="457.7" x2="188.3" y2="457.7" stroke="#231f20" stroke-width="0.9"/>
<text x="182.9" y="460.7" font-size="8.4" fill="#231f20" stroke="#231f20" stroke-width="0.22" text-anchor="end" textLength="8.7" lengthAdjust="spacingAndGlyphs" >80</text>
<line x1="185.10000000000002" y1="440.2" x2="188.3" y2="440.2" stroke="#231f20" stroke-width="0.9"/>
<text x="182.9" y="443.2" font-size="8.4" fill="#231f20" stroke="#231f20" stroke-width="0.22" text-anchor="end" textLength="13.0" lengthAdjust="spacingAndGlyphs" >100</text>
<line x1="185.10000000000002" y1="422.7" x2="188.3" y2="422.7" stroke="#231f20" stroke-width="0.9"/>
<text x="182.9" y="425.7" font-size="8.4" fill="#231f20" stroke="#231f20" stroke-width="0.22" text-anchor="end" textLength="13.0" lengthAdjust="spacingAndGlyphs" >120</text>
<polyline points="209.3,413.1 209.3,408.7 241.3,408.7 241.3,413.1" fill="none" stroke="#231f20" stroke-width="1"/>
<circle cx="225.5" cy="404.7" r="1.25" fill="#1a1a1a"/>
<line x1="207.7" y1="493.0" x2="207.7" y2="424.5" stroke="#2a2a2a" stroke-width="1.1" stroke-dasharray="2.9,2.2"/>
<line x1="207.7" y1="521.5" x2="207.7" y2="525.5" stroke="#2a2a2a" stroke-width="1.1" stroke-dasharray="2.9,2.2"/>
<line x1="201.1" y1="424.5" x2="214.29999999999998" y2="424.5" stroke="#2a2a2a" stroke-width="1.2"/>
<line x1="201.1" y1="525.5" x2="214.29999999999998" y2="525.5" stroke="#2a2a2a" stroke-width="1.2"/>
<rect x="194.29999999999998" y="493.0" width="26.8" height="28.5" fill="#68ace2"/>
<line x1="194.29999999999998" y1="509.5" x2="221.1" y2="509.5" stroke="#1a1a1a" stroke-width="1.4"/>
<line x1="241.5" y1="512.5" x2="241.5" y2="461.2" stroke="#2a2a2a" stroke-width="1.1" stroke-dasharray="2.9,2.2"/>
<line x1="241.5" y1="522.0" x2="241.5" y2="526.7" stroke="#2a2a2a" stroke-width="1.1" stroke-dasharray="2.9,2.2"/>
<line x1="234.9" y1="461.2" x2="248.1" y2="461.2" stroke="#2a2a2a" stroke-width="1.2"/>
<line x1="234.9" y1="526.7" x2="248.1" y2="526.7" stroke="#2a2a2a" stroke-width="1.2"/>
<rect x="228.1" y="512.5" width="26.8" height="9.5" fill="#b8102c"/>
<line x1="228.1" y1="517.0" x2="254.9" y2="517.0" stroke="#1a0005" stroke-width="2.0"/>
<text transform="translate(152.0,476.8) rotate(-90)" font-size="8.6" fill="#231f20" stroke="#231f20" stroke-width="0.22" text-anchor="middle" textLength="110.7" lengthAdjust="spacingAndGlyphs" >Number of SNVs at C within WRCY</text>
<text transform="translate(162.6,475.9) rotate(-90)" font-size="8.6" fill="#231f20" stroke="#231f20" stroke-width="0.22" text-anchor="middle" textLength="94.2" lengthAdjust="spacingAndGlyphs" >(G within RGYW) per sample</text>
<text x="207.7" y="543.2" font-size="8.2" fill="#231f20" stroke="#231f20" stroke-width="0.22" text-anchor="middle" textLength="16.5" lengthAdjust="spacingAndGlyphs" >High</text>
<text x="241.5" y="543.2" font-size="8.2" fill="#231f20" stroke="#231f20" stroke-width="0.22" text-anchor="middle" textLength="13.5" lengthAdjust="spacingAndGlyphs" >Low</text>
<text x="207.7" y="553.0" font-size="8.2" fill="#231f20" stroke="#231f20" stroke-width="0.22" text-anchor="middle" textLength="28.2" lengthAdjust="spacingAndGlyphs" >(n = 24)</text>
<text x="241.5" y="553.0" font-size="8.2" fill="#231f20" stroke="#231f20" stroke-width="0.22" text-anchor="middle" textLength="28.2" lengthAdjust="spacingAndGlyphs" >(n = 24)</text>
<text x="224.6" y="566.6" font-size="8.8" fill="#231f20" stroke="#231f20" stroke-width="0.3" text-anchor="middle" font-style="italic" textLength="46.3" lengthAdjust="spacingAndGlyphs" >HOIP (RNF31)</text>
<text x="224.6" y="577.6" font-size="8.8" fill="#231f20" stroke="#231f20" stroke-width="0.22" text-anchor="middle" textLength="35.5" lengthAdjust="spacingAndGlyphs" >expression</text>
<polyline points="316.3,421.2 316.3,531.0 389.3,531.0" fill="none" stroke="#231f20" stroke-width="1.3" stroke-linejoin="round"/>
<line x1="335.8" y1="531.0" x2="335.8" y2="533.7" stroke="#231f20" stroke-width="0.9"/>
<line x1="369.5" y1="531.0" x2="369.5" y2="533.7" stroke="#231f20" stroke-width="0.9"/>
<line x1="313.1" y1="527.5" x2="316.3" y2="527.5" stroke="#231f20" stroke-width="0.9"/>
<text x="310.90000000000003" y="530.5" font-size="8.4" fill="#231f20" stroke="#231f20" stroke-width="0.22" text-anchor="end" textLength="4.3" lengthAdjust="spacingAndGlyphs" >0</text>
<line x1="313.1" y1="512.5" x2="316.3" y2="512.5" stroke="#231f20" stroke-width="0.9"/>
<text x="310.90000000000003" y="515.5" font-size="8.4" fill="#231f20" stroke="#231f20" stroke-width="0.22" text-anchor="end" textLength="13.0" lengthAdjust="spacingAndGlyphs" >200</text>
<line x1="313.1" y1="497.5" x2="316.3" y2="497.5" stroke="#231f20" stroke-width="0.9"/>
<text x="310.90000000000003" y="500.5" font-size="8.4" fill="#231f20" stroke="#231f20" stroke-width="0.22" text-anchor="end" textLength="13.0" lengthAdjust="spacingAndGlyphs" >400</text>
<line x1="313.1" y1="482.5" x2="316.3" y2="482.5" stroke="#231f20" stroke-width="0.9"/>
<text x="310.90000000000003" y="485.5" font-size="8.4" fill="#231f20" stroke="#231f20" stroke-width="0.22" text-anchor="end" textLength="13.0" lengthAdjust="spacingAndGlyphs" >600</text>
<line x1="313.1" y1="467.5" x2="316.3" y2="467.5" stroke="#231f20" stroke-width="0.9"/>
<text x="310.90000000000003" y="470.5" font-size="8.4" fill="#231f20" stroke="#231f20" stroke-width="0.22" text-anchor="end" textLength="13.0" lengthAdjust="spacingAndGlyphs" >800</text>
<line x1="313.1" y1="452.5" x2="316.3" y2="452.5" stroke="#231f20" stroke-width="0.9"/>
<text x="310.90000000000003" y="455.5" font-size="8.4" fill="#231f20" stroke="#231f20" stroke-width="0.22" text-anchor="end" textLength="17.4" lengthAdjust="spacingAndGlyphs" >1000</text>
<line x1="313.1" y1="437.5" x2="316.3" y2="437.5" stroke="#231f20" stroke-width="0.9"/>
<text x="310.90000000000003" y="440.5" font-size="8.4" fill="#231f20" stroke="#231f20" stroke-width="0.22" text-anchor="end" textLength="17.4" lengthAdjust="spacingAndGlyphs" >1200</text>
<line x1="313.1" y1="422.5" x2="316.3" y2="422.5" stroke="#231f20" stroke-width="0.9"/>
<text x="310.90000000000003" y="425.5" font-size="8.4" fill="#231f20" stroke="#231f20" stroke-width="0.22" text-anchor="end" textLength="17.4" lengthAdjust="spacingAndGlyphs" >1400</text>
<polyline points="337.5,413.1 337.5,408.7 369.3,408.7 369.3,413.1" fill="none" stroke="#231f20" stroke-width="1"/>
<circle cx="353.3" cy="404.7" r="1.25" fill="#1a1a1a"/>
<line x1="335.8" y1="496.2" x2="335.8" y2="424.5" stroke="#2a2a2a" stroke-width="1.1" stroke-dasharray="2.9,2.2"/>
<line x1="335.8" y1="524.2" x2="335.8" y2="526.2" stroke="#2a2a2a" stroke-width="1.1" stroke-dasharray="2.9,2.2"/>
<line x1="329.2" y1="424.5" x2="342.40000000000003" y2="424.5" stroke="#2a2a2a" stroke-width="1.2"/>
<line x1="329.2" y1="526.2" x2="342.40000000000003" y2="526.2" stroke="#2a2a2a" stroke-width="1.2"/>
<rect x="322.40000000000003" y="496.2" width="26.8" height="28.0" fill="#68ace2"/>
<line x1="322.40000000000003" y1="516.0" x2="349.2" y2="516.0" stroke="#1a1a1a" stroke-width="1.4"/>
<line x1="369.5" y1="519.2" x2="369.5" y2="485.2" stroke="#2a2a2a" stroke-width="1.1" stroke-dasharray="2.9,2.2"/>
<line x1="369.5" y1="523.3" x2="369.5" y2="527.0" stroke="#2a2a2a" stroke-width="1.1" stroke-dasharray="2.9,2.2"/>
<line x1="362.9" y1="485.2" x2="376.1" y2="485.2" stroke="#2a2a2a" stroke-width="1.2"/>
<line x1="362.9" y1="527.0" x2="376.1" y2="527.0" stroke="#2a2a2a" stroke-width="1.2"/>
<rect x="356.1" y="519.2" width="26.8" height="4.1" fill="#b8102c"/>
<line x1="356.1" y1="520.9" x2="382.9" y2="520.9" stroke="#1a0005" stroke-width="2.0"/>
<text transform="translate(275.5,475.8) rotate(-90)" font-size="8.6" fill="#231f20" stroke="#231f20" stroke-width="0.22" text-anchor="middle" textLength="112.0" lengthAdjust="spacingAndGlyphs" >Number of SNVs at C:G base pairs</text>
<text transform="translate(286.5,475.6) rotate(-90)" font-size="8.6" fill="#231f20" stroke="#231f20" stroke-width="0.22" text-anchor="middle" textLength="36.7" lengthAdjust="spacingAndGlyphs" >per sample</text>
<text x="335.8" y="543.2" font-size="8.2" fill="#231f20" stroke="#231f20" stroke-width="0.22" text-anchor="middle" textLength="16.5" lengthAdjust="spacingAndGlyphs" >High</text>
<text x="369.5" y="543.2" font-size="8.2" fill="#231f20" stroke="#231f20" stroke-width="0.22" text-anchor="middle" textLength="13.5" lengthAdjust="spacingAndGlyphs" >Low</text>
<text x="335.8" y="553.0" font-size="8.2" fill="#231f20" stroke="#231f20" stroke-width="0.22" text-anchor="middle" textLength="28.2" lengthAdjust="spacingAndGlyphs" >(n = 24)</text>
<text x="369.5" y="553.0" font-size="8.2" fill="#231f20" stroke="#231f20" stroke-width="0.22" text-anchor="middle" textLength="28.2" lengthAdjust="spacingAndGlyphs" >(n = 24)</text>
<text x="352.65" y="566.6" font-size="8.8" fill="#231f20" stroke="#231f20" stroke-width="0.3" text-anchor="middle" font-style="italic" textLength="46.3" lengthAdjust="spacingAndGlyphs" >HOIP (RNF31)</text>
<text x="352.65" y="577.6" font-size="8.8" fill="#231f20" stroke="#231f20" stroke-width="0.22" text-anchor="middle" textLength="35.5" lengthAdjust="spacingAndGlyphs" >expression</text>
<polyline points="433.0,421.2 433.0,531.0 505.5,531.0" fill="none" stroke="#231f20" stroke-width="1.3" stroke-linejoin="round"/>
<line x1="452.5" y1="531.0" x2="452.5" y2="533.7" stroke="#231f20" stroke-width="0.9"/>
<line x1="485.8" y1="531.0" x2="485.8" y2="533.7" stroke="#231f20" stroke-width="0.9"/>
<line x1="429.8" y1="528.0" x2="433.0" y2="528.0" stroke="#231f20" stroke-width="0.9"/>
<text x="427.6" y="531.0" font-size="8.4" fill="#231f20" stroke="#231f20" stroke-width="0.22" text-anchor="end" textLength="4.3" lengthAdjust="spacingAndGlyphs" >0</text>
<line x1="429.8" y1="513.8" x2="433.0" y2="513.8" stroke="#231f20" stroke-width="0.9"/>
<text x="427.6" y="516.8" font-size="8.4" fill="#231f20" stroke="#231f20" stroke-width="0.22" text-anchor="end" textLength="13.0" lengthAdjust="spacingAndGlyphs" >200</text>
<line x1="429.8" y1="499.6" x2="433.0" y2="499.6" stroke="#231f20" stroke-width="0.9"/>
<text x="427.6" y="502.6" font-size="8.4" fill="#231f20" stroke="#231f20" stroke-width="0.22" text-anchor="end" textLength="13.0" lengthAdjust="spacingAndGlyphs" >400</text>
<line x1="429.8" y1="485.4" x2="433.0" y2="485.4" stroke="#231f20" stroke-width="0.9"/>
<text x="427.6" y="488.4" font-size="8.4" fill="#231f20" stroke="#231f20" stroke-width="0.22" text-anchor="end" textLength="13.0" lengthAdjust="spacingAndGlyphs" >600</text>
<line x1="429.8" y1="471.2" x2="433.0" y2="471.2" stroke="#231f20" stroke-width="0.9"/>
<text x="427.6" y="474.2" font-size="8.4" fill="#231f20" stroke="#231f20" stroke-width="0.22" text-anchor="end" textLength="13.0" lengthAdjust="spacingAndGlyphs" >800</text>
<line x1="429.8" y1="457.0" x2="433.0" y2="457.0" stroke="#231f20" stroke-width="0.9"/>
<text x="427.6" y="460.0" font-size="8.4" fill="#231f20" stroke="#231f20" stroke-width="0.22" text-anchor="end" textLength="17.4" lengthAdjust="spacingAndGlyphs" >1000</text>
<line x1="429.8" y1="442.8" x2="433.0" y2="442.8" stroke="#231f20" stroke-width="0.9"/>
<text x="427.6" y="445.8" font-size="8.4" fill="#231f20" stroke="#231f20" stroke-width="0.22" text-anchor="end" textLength="17.4" lengthAdjust="spacingAndGlyphs" >1200</text>
<line x1="429.8" y1="428.6" x2="433.0" y2="428.6" stroke="#231f20" stroke-width="0.9"/>
<text x="427.6" y="431.6" font-size="8.4" fill="#231f20" stroke="#231f20" stroke-width="0.22" text-anchor="end" textLength="17.4" lengthAdjust="spacingAndGlyphs" >1400</text>
<polyline points="454.5,413.1 454.5,408.7 486.3,408.7 486.3,413.1" fill="none" stroke="#231f20" stroke-width="1"/>
<circle cx="470.0" cy="404.7" r="1.25" fill="#1a1a1a"/>
<line x1="452.5" y1="496.2" x2="452.5" y2="424.5" stroke="#2a2a2a" stroke-width="1.1" stroke-dasharray="2.9,2.2"/>
<line x1="452.5" y1="524.5" x2="452.5" y2="526.5" stroke="#2a2a2a" stroke-width="1.1" stroke-dasharray="2.9,2.2"/>
<line x1="445.9" y1="424.5" x2="459.1" y2="424.5" stroke="#2a2a2a" stroke-width="1.2"/>
<line x1="445.9" y1="526.5" x2="459.1" y2="526.5" stroke="#2a2a2a" stroke-width="1.2"/>
<rect x="439.25" y="496.2" width="26.5" height="28.3" fill="#68ace2"/>
<line x1="439.25" y1="517.8" x2="465.75" y2="517.8" stroke="#1a1a1a" stroke-width="1.4"/>
<line x1="485.8" y1="520.0" x2="485.8" y2="487.5" stroke="#2a2a2a" stroke-width="1.1" stroke-dasharray="2.9,2.2"/>
<line x1="485.8" y1="523.8" x2="485.8" y2="526.5" stroke="#2a2a2a" stroke-width="1.1" stroke-dasharray="2.9,2.2"/>
<line x1="479.2" y1="487.5" x2="492.40000000000003" y2="487.5" stroke="#2a2a2a" stroke-width="1.2"/>
<line x1="479.2" y1="526.5" x2="492.40000000000003" y2="526.5" stroke="#2a2a2a" stroke-width="1.2"/>
<rect x="472.3" y="520.0" width="27.0" height="3.8" fill="#b8102c"/>
<line x1="472.3" y1="521.3" x2="499.3" y2="521.3" stroke="#1a0005" stroke-width="2.0"/>
<text transform="translate(403.3,475.6) rotate(-90)" font-size="8.6" fill="#231f20" stroke="#231f20" stroke-width="0.22" text-anchor="middle" textLength="111.7" lengthAdjust="spacingAndGlyphs" >Number of transitions per sample</text>
<text x="452.5" y="543.2" font-size="8.2" fill="#231f20" stroke="#231f20" stroke-width="0.22" text-anchor="middle" textLength="16.5" lengthAdjust="spacingAndGlyphs" >High</text>
<text x="485.8" y="543.2" font-size="8.2" fill="#231f20" stroke="#231f20" stroke-width="0.22" text-anchor="middle" textLength="13.5" lengthAdjust="spacingAndGlyphs" >Low</text>
<text x="452.5" y="553.0" font-size="8.2" fill="#231f20" stroke="#231f20" stroke-width="0.22" text-anchor="middle" textLength="28.2" lengthAdjust="spacingAndGlyphs" >(n = 24)</text>
<text x="485.8" y="553.0" font-size="8.2" fill="#231f20" stroke="#231f20" stroke-width="0.22" text-anchor="middle" textLength="28.2" lengthAdjust="spacingAndGlyphs" >(n = 24)</text>
<text x="469.15" y="566.6" font-size="8.8" fill="#231f20" stroke="#231f20" stroke-width="0.3" text-anchor="middle" font-style="italic" textLength="46.3" lengthAdjust="spacingAndGlyphs" >HOIP (RNF31)</text>
<text x="469.15" y="577.6" font-size="8.8" fill="#231f20" stroke="#231f20" stroke-width="0.22" text-anchor="middle" textLength="35.5" lengthAdjust="spacingAndGlyphs" >expression</text>
</g>
<rect x="0.5" y="0.5" width="519" height="586" fill="none" stroke="#000" stroke-width="1.2"/>
</svg>
</body></html>
